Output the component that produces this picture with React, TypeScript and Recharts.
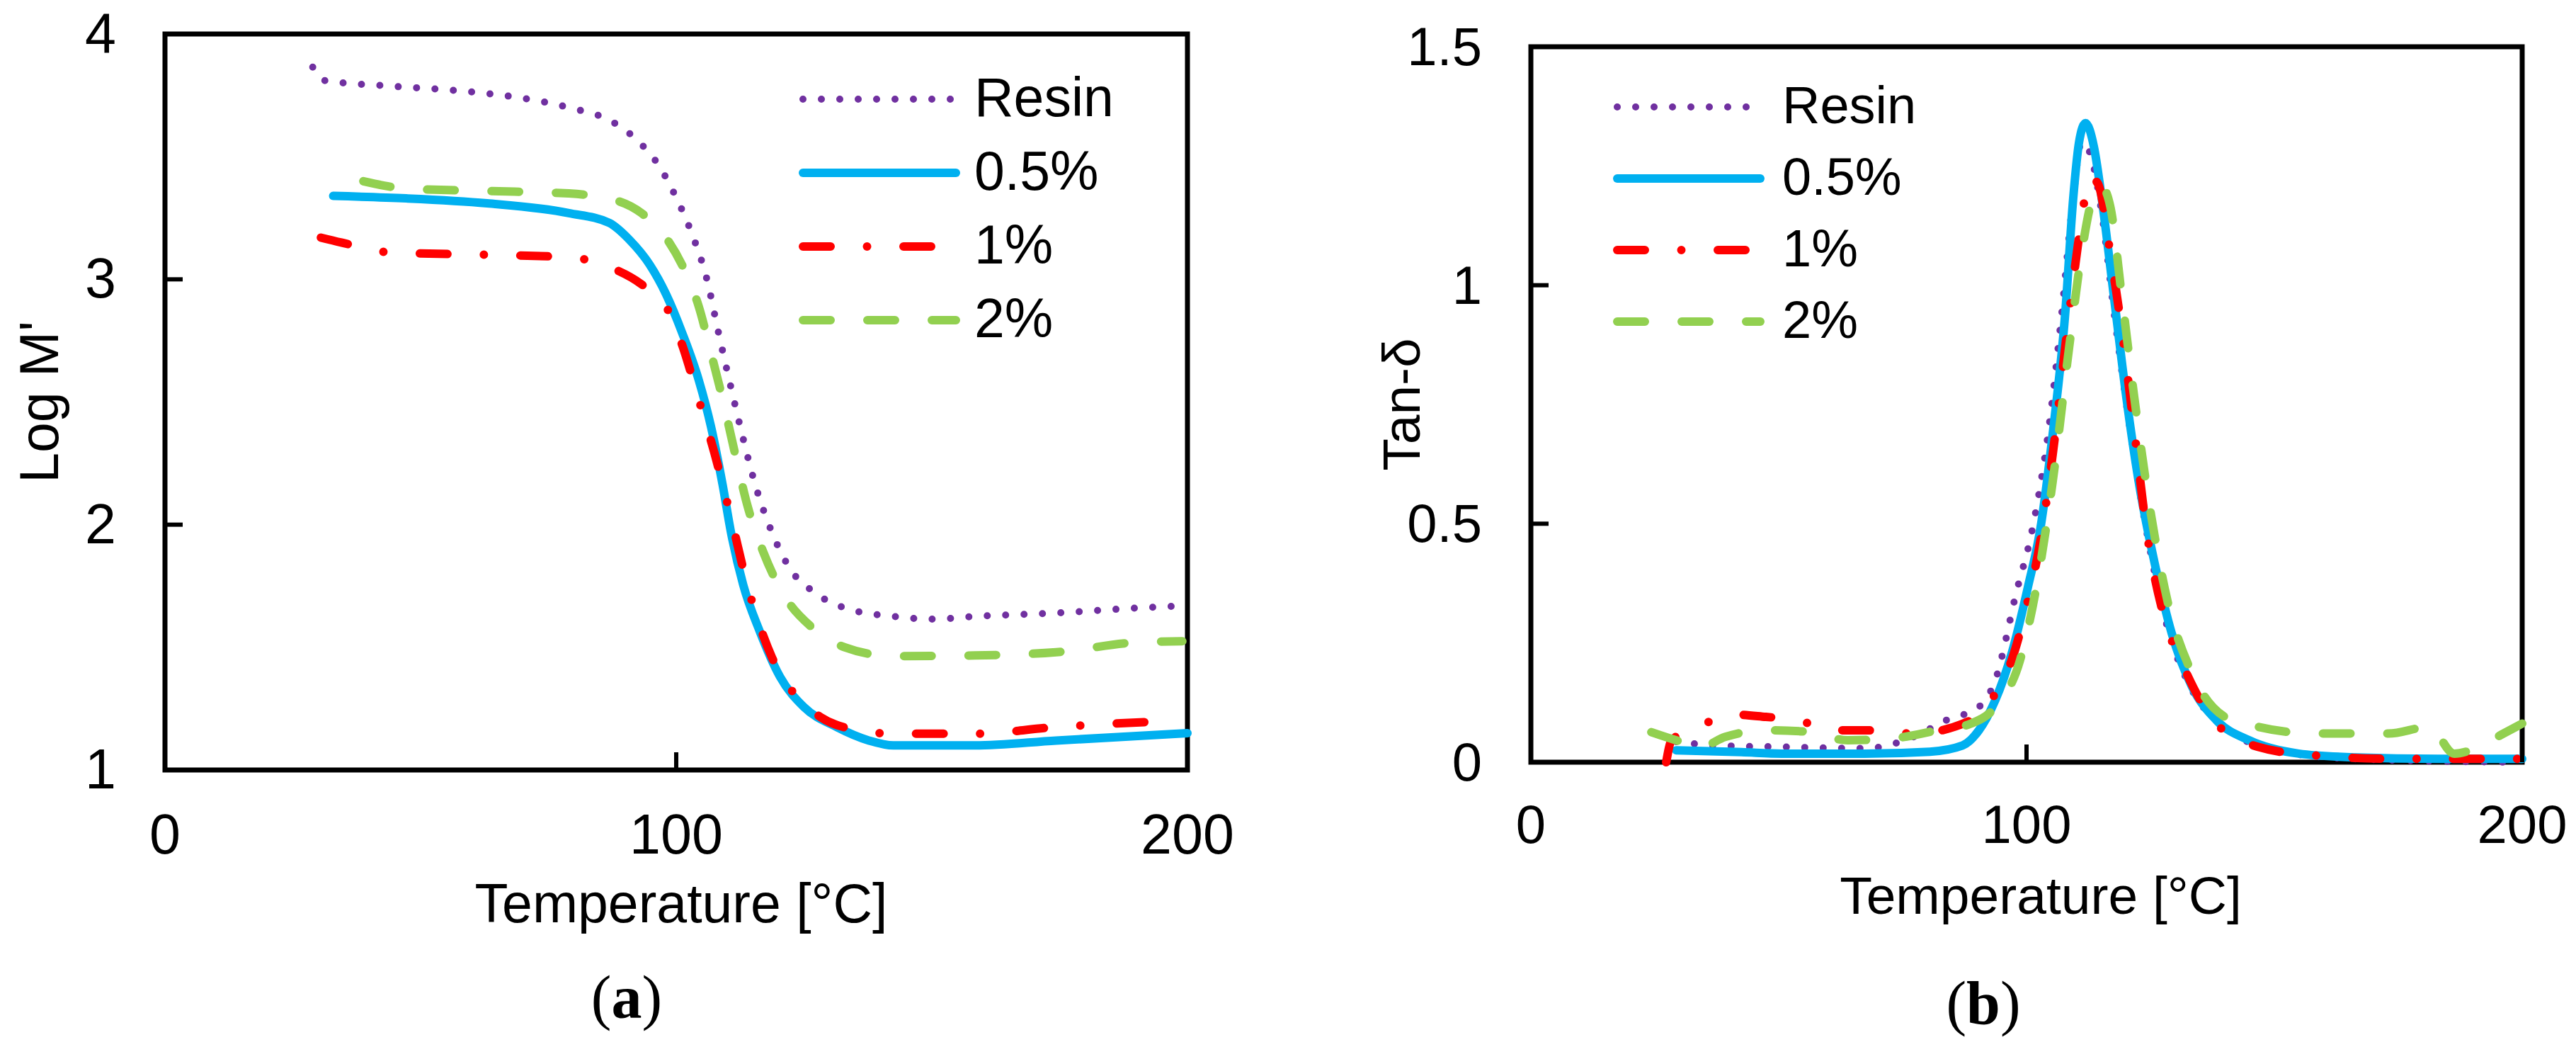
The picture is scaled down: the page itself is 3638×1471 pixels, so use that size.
import React from 'react';
import { LineChart, Line, XAxis, YAxis, ReferenceArea, Legend } from 'recharts';

// ---------- data: chart (a) Log M' ----------
const modResinT = [28.9, 31.3, 42.4, 56.7, 69.4, 79, 87.7, 93.2, 96.4, 99.6, 102.8, 106, 108.3, 110.7, 113.1, 115.5, 118.7, 122.6, 126.6, 133, 142.5, 150.4, 158.4, 174.3, 190, 200];
const modResinV = [3.865, 3.81, 3.79, 3.77, 3.74, 3.7, 3.64, 3.55, 3.47, 3.35, 3.2, 3.0, 2.78, 2.56, 2.35, 2.16, 1.97, 1.81, 1.73, 1.66, 1.626, 1.615, 1.626, 1.64, 1.66, 1.67];

const mod05T = [32.9, 47.2, 63, 79, 86.9, 90.9, 94.8, 98, 101.2, 104.4, 106.8, 109.1, 110.7, 113.1, 116.3, 120.3, 125, 131.4, 137.7, 142.5, 158.4, 174.3, 200];
const mod05V = [3.34, 3.33, 3.31, 3.27, 3.23, 3.16, 3.06, 2.94, 2.78, 2.59, 2.4, 2.16, 1.97, 1.755, 1.567, 1.38, 1.256, 1.175, 1.12, 1.1, 1.1, 1.12, 1.15];

const mod1T = [30.5, 34.5, 44, 63, 79, 86.9, 93.2, 98, 101.2, 104.4, 107.5, 110.7, 113.9, 118.7, 123.5, 128.2, 136.2, 142.5, 158.4, 174.3, 196.5];
const mod1V = [3.17, 3.15, 3.11, 3.1, 3.09, 3.05, 2.98, 2.89, 2.73, 2.51, 2.29, 2.03, 1.755, 1.46, 1.3, 1.216, 1.16, 1.148, 1.148, 1.175, 1.2];

const mod2T = [38.8, 47.2, 63, 79, 88.5, 93.2, 98, 102, 104.4, 106.8, 109.1, 111.5, 113.9, 117, 121, 126.6, 133, 142.5, 158.4, 174.3, 190, 199];
const mod2V = [3.4, 3.37, 3.36, 3.35, 3.32, 3.27, 3.17, 3.02, 2.89, 2.7, 2.51, 2.29, 2.08, 1.89, 1.715, 1.58, 1.5, 1.464, 1.467, 1.48, 1.52, 1.525];

// ---------- data: chart (b) Tan-delta ----------
const tanResinT = [29.3, 37.5, 50.7, 67.3, 77.2, 83.8, 90.4, 93.7, 97.9, 101.2, 104.5, 107, 109.4, 111.1, 112.7, 115.2, 117.7, 121, 124.3, 128.4, 133.4, 140, 149.9, 166.4, 197.9];
const tanResinV = [0.043, 0.035, 0.032, 0.029, 0.053, 0.088, 0.116, 0.172, 0.354, 0.49, 0.7, 0.93, 1.18, 1.3, 1.28, 1.15, 0.94, 0.69, 0.48, 0.284, 0.151, 0.074, 0.025, 0.007, 0.0];

const tan05T = [29.3, 42.5, 50.7, 67.3, 80.5, 87.1, 90.4, 93.7, 97, 100.3, 102.8, 105.3, 107.8, 109.4, 110.6, 111.9, 113.6, 115.2, 117.7, 120.2, 122.6, 126, 129.3, 133.4, 138.3, 144.9, 154.9, 166.4, 183, 200];
const tan05V = [0.025, 0.021, 0.018, 0.018, 0.022, 0.035, 0.067, 0.13, 0.228, 0.368, 0.49, 0.69, 0.94, 1.18, 1.3, 1.34, 1.29, 1.18, 0.97, 0.76, 0.59, 0.41, 0.27, 0.158, 0.088, 0.046, 0.018, 0.01, 0.007, 0.007];

const tan1T = [27.3, 28.4, 33, 40.8, 47.4, 54, 60.7, 67.3, 77.2, 88.8, 93.7, 97, 100.3, 102.8, 105.3, 108.6, 111.1, 112.7, 114.4, 116.9, 119.3, 121.8, 124.3, 127.6, 131.7, 138.3, 146.8, 158.4, 174.7, 199.5];
const tan1V = [0, 0.046, 0.07, 0.1, 0.095, 0.088, 0.067, 0.067, 0.06, 0.088, 0.144, 0.214, 0.34, 0.465, 0.647, 0.94, 1.137, 1.227, 1.213, 1.067, 0.9, 0.69, 0.48, 0.31, 0.2, 0.081, 0.032, 0.014, 0.007, 0.007];

const tan2T = [24.3, 29.3, 34.2, 39.2, 47.4, 55.7, 63.9, 72.2, 82.1, 88.8, 93.7, 98.7, 102, 105.3, 108.6, 111.1, 113.6, 115.2, 116.9, 119.3, 121.8, 125.1, 128.4, 133.4, 140, 146.8, 158.2, 173, 181.3, 186.3, 191.2, 196.2, 200];
const tan2V = [0.063, 0.046, 0.032, 0.053, 0.067, 0.064, 0.046, 0.049, 0.067, 0.081, 0.116, 0.214, 0.368, 0.59, 0.87, 1.067, 1.19, 1.206, 1.165, 0.97, 0.76, 0.52, 0.34, 0.186, 0.095, 0.074, 0.06, 0.06, 0.074, 0.018, 0.032, 0.06, 0.081];

// ---------- labels / ticks ----------
const seriesNames = ['Resin', '0.5%', '1%', '2%'];
const xTicks = [0, 100, 200];
const modTicks = [1, 2, 3, 4];
const tanTicks = [0, 0.5, 1, 1.5];
const tanTickLabels = ['0', '0.5', '1', '1.5'];
const xTitle = 'Temperature [°C]';

const zip = (t: number[], v: number[]) => t.map((x, i) => ({ t: x, v: v[i] }));

const FONT = "'Liberation Sans', Arial, sans-serif";
const SERIF = "'Liberation Serif', 'Times New Roman', serif";

const styles = [
  { color: '#7030A0', width: 10, dash: '0 26' },
  { color: '#00B0F0', width: 12, dash: undefined as string | undefined },
  { color: '#FF0000', width: 12, dash: '39 51.5 0 51.5' },
  { color: '#92D050', width: 12, dash: '39 52' },
];

const modData = [zip(modResinT, modResinV), zip(mod05T, mod05V), zip(mod1T, mod1V), zip(mod2T, mod2V)];
const tanData = [zip(tanResinT, tanResinV), zip(tan05T, tan05V), zip(tan1T, tan1V), zip(tan2T, tan2V)];

const CW = 1819;
const CH = 1471;
const AX = 150; // space reserved for axes

type Cfg = {
  plotLeft: number; plotTop: number; plotRight: number; plotBottom: number;
  tickFont: number; titleFont: number; legendFont: number;
  yTitle: string; yTitleX: number; xTitleX: number; xTitleY: number;
  legLeft: number; legTop: number; legX1: number; legX2: number; legText: number;
  legRows: number[]; legBase: number;
  xLabelBase: number;
};

const makeXTick = (cfg: Cfg) => (props: any) => {
  const { x, payload } = props;
  const y = cfg.plotBottom;
  return (
    <g>
      <line x1={x} x2={x} y1={y} y2={y - 25} stroke="#000" strokeWidth={6} />
      <text x={x} y={y + cfg.xLabelBase} textAnchor="middle" fontFamily={FONT} fontSize={cfg.tickFont} fill="#000">
        {payload.value}
      </text>
    </g>
  );
};

const makeYTick = (cfg: Cfg, fmt: (v: number) => string) => (props: any) => {
  const { y, payload } = props;
  const x = cfg.plotLeft;
  return (
    <g>
      <line x1={x} x2={x + 25} y1={y} y2={y} stroke="#000" strokeWidth={6} />
      <text x={x - 69} y={y + 26} textAnchor="end" fontFamily={FONT} fontSize={cfg.tickFont} fill="#000">
        {fmt(payload.value)}
      </text>
    </g>
  );
};

const makeLegend = (cfg: Cfg) => () => (
  <svg width={560} height={460} style={{ display: 'block', overflow: 'visible' }}>
    {seriesNames.map((name, i) => {
      const s = styles[i];
      const ry = cfg.legRows[i] - cfg.legTop;
      return (
        <g key={name}>
          <line
            x1={cfg.legX1 - cfg.legLeft}
            x2={cfg.legX2 - cfg.legLeft}
            y1={ry}
            y2={ry}
            stroke={s.color}
            strokeWidth={s.width}
            strokeDasharray={s.dash}
            strokeLinecap="round"
          />
          <text x={cfg.legText - cfg.legLeft} y={ry + cfg.legBase} fontFamily={FONT} fontSize={cfg.legendFont} fill="#000">
            {name}
          </text>
        </g>
      );
    })}
  </svg>
);

function Panel({ cfg, data, yDomain, yTicks, yFmt }: { cfg: Cfg; data: { t: number; v: number }[][]; yDomain: [number, number]; yTicks: number[]; yFmt: (v: number) => string }) {
  return (
    <LineChart
      width={CW}
      height={CH}
      margin={{ left: cfg.plotLeft - AX, top: cfg.plotTop, right: CW - cfg.plotRight, bottom: CH - cfg.plotBottom - AX }}
    >
      <XAxis
        dataKey="t"
        type="number"
        domain={[0, 200]}
        ticks={xTicks}
        interval={0}
        height={AX}
        axisLine={false}
        tickLine={false}
        tick={makeXTick(cfg)}
        allowDuplicatedCategory={false}
      />
      <YAxis
        type="number"
        domain={yDomain}
        ticks={yTicks}
        interval={0}
        width={AX}
        axisLine={false}
        tickLine={false}
        tick={makeYTick(cfg, yFmt)}
      />
      <ReferenceArea x1={0} x2={200} y1={yDomain[0]} y2={yDomain[1]} fill="none" stroke="#000" strokeWidth={7} ifOverflow="visible" />
      {data.map((d, i) => (
        <Line
          key={seriesNames[i]}
          name={seriesNames[i]}
          data={d}
          dataKey="v"
          type="monotone"
          stroke={styles[i].color}
          strokeWidth={styles[i].width}
          strokeDasharray={styles[i].dash}
          strokeLinecap="round"
          strokeLinejoin="round"
          dot={false}
          activeDot={false}
          isAnimationActive={false}
        />
      ))}
      <Legend
        layout="vertical"
        align="center"
        verticalAlign="middle"
        content={makeLegend(cfg)}
        wrapperStyle={{ left: cfg.legLeft, top: cfg.legTop, width: 560, height: 460, bottom: 'auto', right: 'auto' }}
      />
    </LineChart>
  );
}

const cfgA: Cfg = {
  plotLeft: 233, plotTop: 48, plotRight: 1677, plotBottom: 1087,
  tickFont: 79, titleFont: 77, legendFont: 77,
  yTitle: "Log M'", yTitleX: 82, xTitleX: 962, xTitleY: 1302,
  legLeft: 1110, legTop: 80, legX1: 1134, legX2: 1350, legText: 1376,
  legRows: [140, 244, 348, 452], legBase: 24,
  xLabelBase: 118,
};

const cfgB: Cfg = {
  plotLeft: 343, plotTop: 66, plotRight: 1743, plotBottom: 1076,
  tickFont: 76, titleFont: 75, legendFont: 74,
  yTitle: 'Tan-δ', yTitleX: 186, xTitleX: 1063, xTitleY: 1290,
  legLeft: 440, legTop: 90, legX1: 465, legX2: 667, legText: 698,
  legRows: [151, 252, 353, 454], legBase: 23,
  xLabelBase: 114,
};

function Titles({ cfg, dx, caption, capX, capY }: { cfg: Cfg; dx: number; caption: string; capX: number; capY: number }) {
  const cy = (cfg.plotTop + cfg.plotBottom) / 2;
  const yx = cfg.yTitleX + dx;
  return (
    <g>
      <text x={cfg.xTitleX + dx} y={cfg.xTitleY} textAnchor="middle" fontFamily={FONT} fontSize={cfg.titleFont} fill="#000">
        {xTitle}
      </text>
      <text x={yx} y={cy} textAnchor="middle" transform={`rotate(-90, ${yx}, ${cy})`} fontFamily={FONT} fontSize={cfg.titleFont} fill="#000">
        {cfg.yTitle}
      </text>
      <text x={capX + dx} y={capY} textAnchor="middle" fontFamily={SERIF} fontSize={86} fill="#000">
        (<tspan fontWeight="bold">{caption}</tspan>)
      </text>
    </g>
  );
}

export default function App() {
  return (
    <div style={{ position: 'absolute', left: 0, top: 0, width: 3638, height: 1471, background: '#fff', overflow: 'hidden' }}>
      <div style={{ position: 'absolute', left: 0, top: 0, width: CW, height: CH }}>
        <Panel cfg={cfgA} data={modData} yDomain={[1, 4]} yTicks={modTicks} yFmt={(v) => String(v)} />
      </div>
      <div style={{ position: 'absolute', left: CW, top: 0, width: CW, height: CH }}>
        <Panel cfg={cfgB} data={tanData} yDomain={[0, 1.5]} yTicks={tanTicks} yFmt={(v) => tanTickLabels[tanTicks.indexOf(v)] ?? String(v)} />
      </div>
      <svg width={3638} height={1471} style={{ position: 'absolute', left: 0, top: 0, pointerEvents: 'none' }}>
        <Titles cfg={cfgA} dx={0} caption="a" capX={885} capY={1437} />
        <Titles cfg={cfgB} dx={CW} caption="b" capX={982} capY={1445} />
      </svg>
    </div>
  );
}
